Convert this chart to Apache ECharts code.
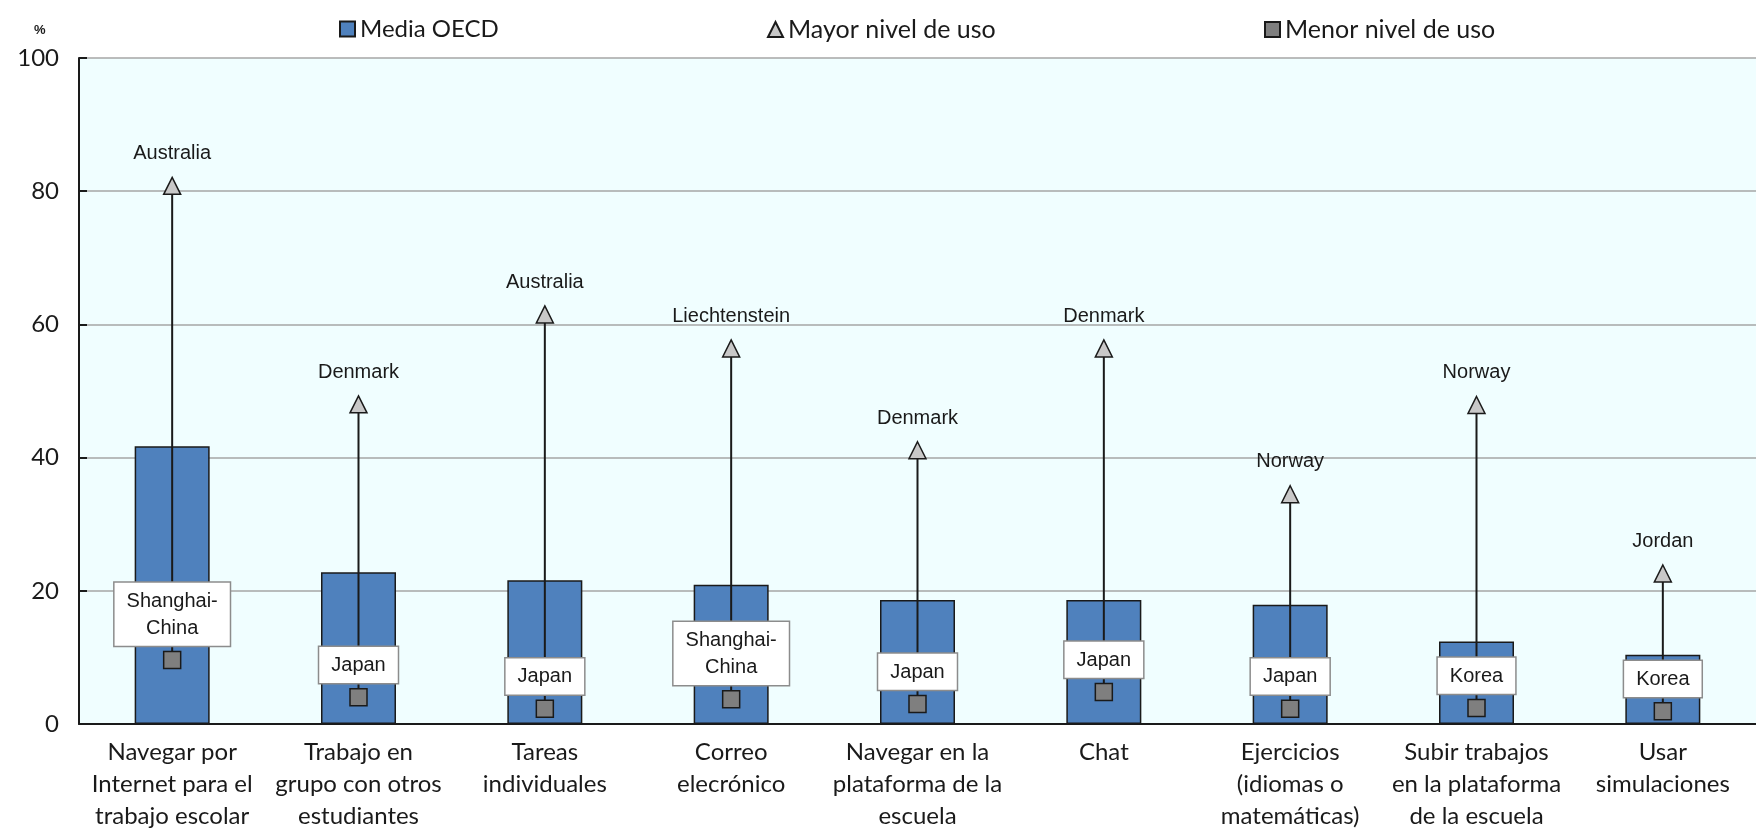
<!DOCTYPE html>
<html>
<head>
<meta charset="utf-8">
<script src="https://cdn.jsdelivr.net/npm/echarts@6/dist/echarts.min.js"></script>
<style>
  html, body { margin: 0; padding: 0; background: #fff; }
  #chart { width: 1756px; height: 832px; }
</style>
</head>
<body>
<div id="chart"></div>
<script>
// categorias del eje x
var categories = [
  'Navegar por\nInternet para el\ntrabajo escolar',
  'Trabajo en\ngrupo con otros\nestudiantes',
  'Tareas\nindividuales',
  'Correo\nelecrónico',
  'Navegar en la\nplataforma de la\nescuela',
  'Chat',
  'Ejercicios\n(idiomas o\nmatemáticas)',
  'Subir trabajos\nen la plataforma\nde la escuela',
  'Usar\nsimulaciones'
];
var mediaOECD = [41.7, 22.8, 21.6, 20.9, 18.6, 18.6, 17.9, 12.4, 10.4];
var mayorNivel = [80.8, 48.0, 61.5, 56.4, 41.1, 56.4, 34.5, 47.9, 22.6];
var mayorPais = ['Australia', 'Denmark', 'Australia', 'Liechtenstein', 'Denmark', 'Denmark', 'Norway', 'Norway', 'Jordan'];
var menorNivel = [9.6, 4.0, 2.3, 3.7, 3.0, 4.8, 2.3, 2.4, 1.9];
var menorPais = ['Shanghai-\nChina', 'Japan', 'Japan', 'Shanghai-\nChina', 'Japan', 'Japan', 'Japan', 'Korea', 'Korea'];
var yTicks = [0, 20, 40, 60, 80, 100];

var labelFont = '"Liberation Sans", Arial, sans-serif';
var textFont = 'Lato, "Open Sans", sans-serif';

var rangeData = [];
for (var i = 0; i < categories.length; i++) {
  rangeData.push([i, menorNivel[i], mayorNivel[i]]);
}

var chart = echarts.init(document.getElementById('chart'));
var option = {
  animation: false,
  backgroundColor: '#ffffff',
  textStyle: { fontFamily: textFont },
  grid: {
    left: 79, top: 58, width: 1692, height: 670,
    show: true, backgroundColor: '#f0feff', borderWidth: 0
  },
  legend: [
    { data: [{ name: 'Media OECD', icon: 'rect' }], left: 334, top: 12, itemWidth: 15, itemHeight: 15,
      textStyle: { fontSize: 24, color: '#1a1a1a', fontFamily: textFont } },
    { data: ['Mayor nivel de uso'], left: 762, top: 12, itemWidth: 15, itemHeight: 15,
      textStyle: { fontSize: 25, color: '#1a1a1a', fontFamily: textFont } },
    { data: [{ name: 'Menor nivel de uso', icon: 'rect' }], left: 1259, top: 12, itemWidth: 15, itemHeight: 15,
      textStyle: { fontSize: 25, color: '#1a1a1a', fontFamily: textFont } }
  ],
  graphic: [
    { type: 'text', left: 34, top: 24, style: { text: '%', fontSize: 13, fontWeight: 'bold', fill: '#1a1a1a', fontFamily: labelFont } }
  ],
  xAxis: {
    type: 'category',
    data: categories,
    boundaryGap: true,
    axisLine: { lineStyle: { color: '#1a1a1a', width: 2 } },
    axisTick: { inside: true, length: 8, lineStyle: { color: '#1a1a1a', width: 2 } },
    axisLabel: { interval: 0, fontSize: 24, lineHeight: 32, color: '#1a1a1a', margin: 12, fontFamily: textFont }
  },
  yAxis: {
    type: 'value',
    min: yTicks[0], max: yTicks[yTicks.length - 1], interval: 20,
    axisLine: { show: true, lineStyle: { color: '#1a1a1a', width: 2 } },
    axisTick: { show: true, inside: true, length: 8, lineStyle: { color: '#1a1a1a', width: 2 } },
    axisLabel: { fontSize: 24, color: '#1a1a1a', margin: 20, fontFamily: textFont },
    splitLine: { lineStyle: { color: '#a6a6a6', width: 1.5 } }
  },
  series: [
    {
      name: 'Media OECD',
      type: 'bar',
      data: mediaOECD,
      barWidth: 75,
      z: 2,
      itemStyle: { color: '#4f81bd', borderColor: '#1a1a1a', borderWidth: 1.5 }
    },
    {
      name: 'rango',
      type: 'custom',
      data: rangeData,
      encode: { x: 0, y: [1, 2] },
      z: 3,
      silent: true,
      renderItem: function (params, api) {
        var p1 = api.coord([api.value(0), api.value(1)]);
        var p2 = api.coord([api.value(0), api.value(2)]);
        return {
          type: 'line',
          shape: { x1: p1[0], y1: p1[1], x2: p2[0], y2: p2[1] },
          style: { stroke: '#1a1a1a', lineWidth: 2 }
        };
      }
    },
    {
      name: 'Menor nivel de uso',
      type: 'scatter',
      data: menorNivel,
      symbol: 'rect',
      symbolSize: 17,
      z: 4,
      itemStyle: { color: '#7f7f7f', borderColor: '#1a1a1a', borderWidth: 1.5, opacity: 1 },
      label: {
        show: true,
        position: 'top',
        distance: 5,
        formatter: function (p) { return menorPais[p.dataIndex]; },
        fontFamily: labelFont,
        fontSize: 20,
        lineHeight: 27,
        color: '#1a1a1a',
        backgroundColor: '#ffffff',
        borderColor: '#8c8c8c',
        borderWidth: 1.5,
        padding: [5, 12, 4, 12],
        align: 'center'
      }
    },
    {
      name: 'Mayor nivel de uso',
      type: 'scatter',
      data: mayorNivel,
      symbol: 'triangle',
      symbolSize: 17,
      z: 5,
      itemStyle: { color: '#c8c8c8', borderColor: '#1a1a1a', borderWidth: 1.5, opacity: 1 },
      label: {
        show: true,
        position: 'top',
        distance: 13,
        formatter: function (p) { return mayorPais[p.dataIndex]; },
        fontFamily: labelFont,
        fontSize: 20,
        color: '#1a1a1a'
      }
    }
  ]
};
chart.setOption(option);
</script>
</body>
</html>
